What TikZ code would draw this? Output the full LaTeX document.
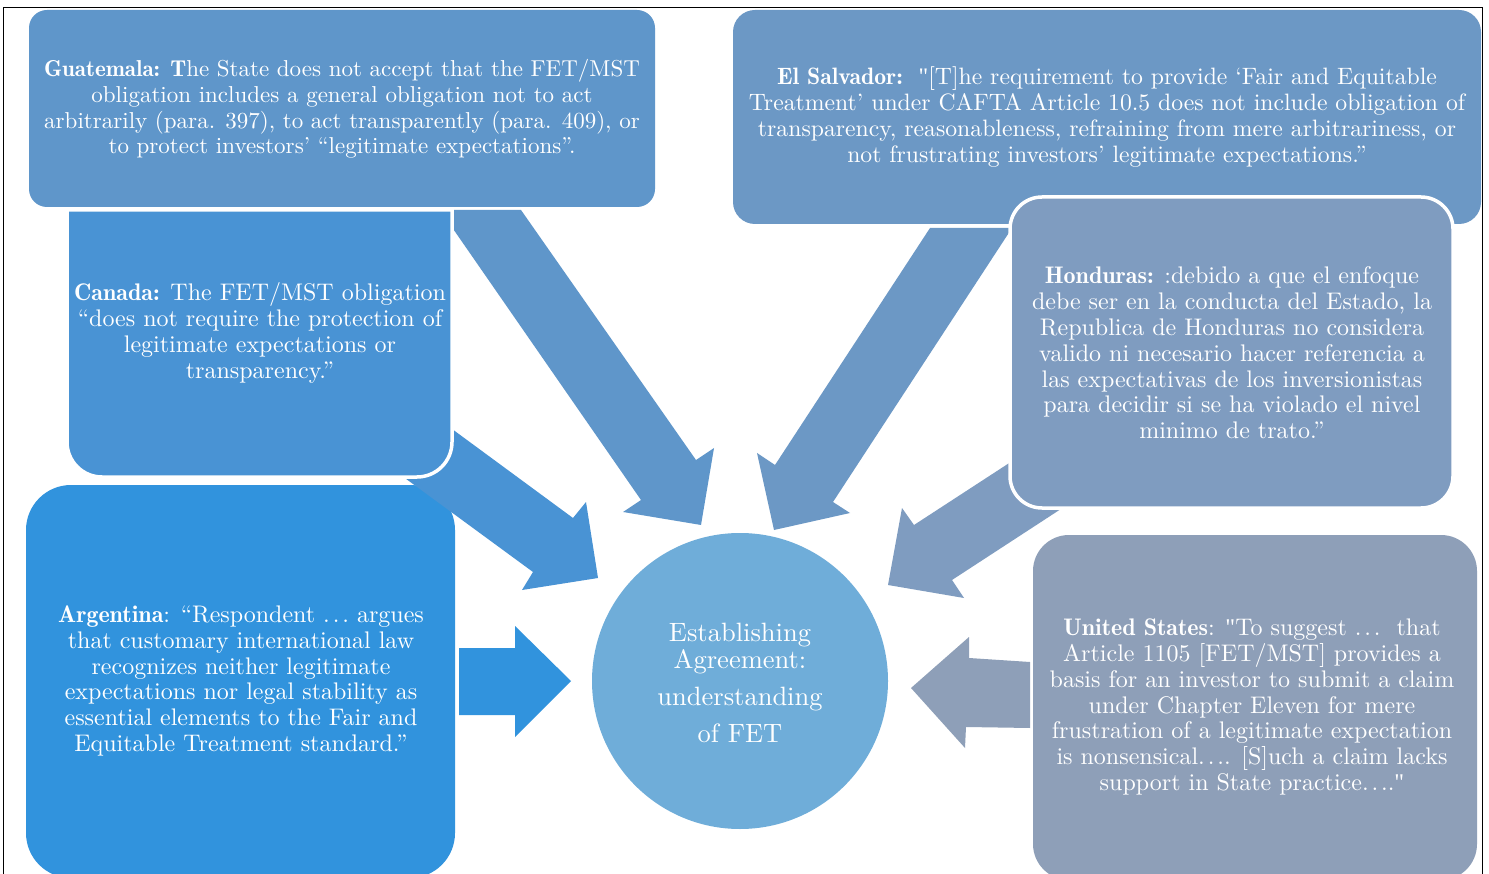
\documentclass[tikz,border=0pt]{standalone}
\usepackage{fontspec}
\setmainfont{lmroman10-regular.otf}[BoldFont=lmromandemi10-regular.otf, ItalicFont=lmroman10-italic.otf]
\newfontfamily\lserif{Liberation Serif}
\newcommand{\sq}{{\lserif"}}
\newcommand{\myell}{.\kern0.12em.\kern0.12em.}
\definecolor{cGua}{HTML}{5F96CA}
\definecolor{cSal}{HTML}{6C98C5}
\definecolor{cCan}{HTML}{4993D4}
\definecolor{cArg}{HTML}{3193DD}
\definecolor{cHon}{HTML}{7F9CC0}
\definecolor{cUS}{HTML}{8E9FB8}
\definecolor{cCir}{HTML}{6FADD9}
\tikzset{
  txt/.style={text=white, align=center, inner sep=0pt, font=\fontsize{24}{25.8}\selectfont},
  wborder/.style={draw=white, line width=3.5pt}
}
\begin{document}
\begin{tikzpicture}[x=1pt,y=-1pt]
\clip (0,0) rectangle (1489,874);
\fill[white] (0,0) rectangle (1489,874);
% top boxes
\fill[cGua, rounded corners=18pt] (29,10) rectangle (655,207);
\fill[cSal, rounded corners=22pt] (733,10) rectangle (1481,224);
% arrows from top boxes
\fill[cGua] (440,210) -- (521,210) -- (696,460) -- (714,448) -- (701,525) -- (623,512) -- (641,500) -- cycle;
\fill[cSal] (930,228) -- (1012,228) -- (833,502) -- (850,513) -- (774,530) -- (757,453) -- (775,465) -- cycle;
% Argentina box
\fill[cArg, rounded corners=45pt] (26,485) rectangle (455,878);
% Canada arrow
\fill[cCan] (433,415) -- (573,518) -- (586,502) -- (598,578) -- (522,590) -- (533,572) -- (383,462) -- cycle;
% Canada box
\filldraw[fill=cCan, wborder] (67,210) -- (452,210) -- (452,442) arc[start angle=0, end angle=90, radius=35] -- (102,477) arc[start angle=90, end angle=180, radius=35] -- cycle;
% Honduras arrow
\fill[cHon] (1040,443) -- (914,525) -- (902,508) -- (888,585) -- (964,598) -- (952,580) -- (1087,492) -- cycle;
% Honduras box
\filldraw[fill=cHon, wborder, rounded corners=32pt] (1010,197) rectangle (1453,508);
% US box
\fill[cUS, rounded corners=36pt] (1033,535) rectangle (1477,880);
% horizontal arrows
\fill[cArg] (459,648) -- (515,648) -- (515,626) -- (571,681) -- (515,737) -- (515,715) -- (459,715) -- cycle;
\fill[cUS] (1030,662) -- (969,658) -- (969,637) -- (911,688) -- (965,748) -- (966,727) -- (1030,728) -- cycle;
% centre circle
\fill[cCir] (740,681) circle[radius=148];
% texts
\node[txt, font=\fontsize{23}{25.8}\selectfont] (gua) at (342,109) {\textbf{Guatemala: T}he State does not accept that the FET/MST\\obligation includes a general obligation not to act\\arbitrarily (para. 397), to act transparently (para. 409), or\\to protect investors’ “legitimate expectations”.};
\node[txt, font=\fontsize{23.7}{25.8}\selectfont] (sal) at (1107,117) {\textbf{El Salvador:}\ \ \sq[T]he requirement to provide ‘Fair and Equitable\\Treatment’ under CAFTA Article 10.5 does not include obligation of\\transparency, reasonableness, refraining from mere arbitrariness, or\\not frustrating investors’ legitimate expectations.”};
\node[txt] (can) at (260,333) {\textbf{Canada:} The FET/MST obligation\\“does not require the protection of\\legitimate expectations or\\transparency.”};
\node[txt] (hon) at (1232,353) {\textbf{Honduras:} :debido a que el enfoque\\debe ser en la conducta del Estado, la\\Republica de Honduras no considera\\valido ni necesario hacer referencia a\\las expectativas de los inversionistas\\para decidir si se ha violado el nivel\\minimo de trato.”};
\node[txt] (arg) at (241,681) {\textbf{Argentina}: “Respondent \myell\ argues\\that customary international law\\recognizes neither legitimate\\expectations nor legal stability as\\essential elements to the Fair and\\Equitable Treatment standard.”};
\node[txt] (us) at (1252,707) {\textbf{United States}: \sq To suggest \myell\ \ that\\Article 1105 [FET/MST] provides a\\basis for an investor to submit a claim\\under Chapter Eleven for mere\\frustration of a legitimate expectation\\is nonsensical\myell. [S]uch a claim lacks\\support in State practice\myell.\sq};
\node[txt, font=\fontsize{26.5}{27}\selectfont] (cir) at (740,683) {Establishing\\Agreement:\\[10pt]understanding\\[10pt]of FET};
% frame
\draw[black, line width=1.5pt] (3.5,880) -- (3.5,7.5) -- (1482.5,7.5) -- (1482.5,880);
\end{tikzpicture}
\end{document}
